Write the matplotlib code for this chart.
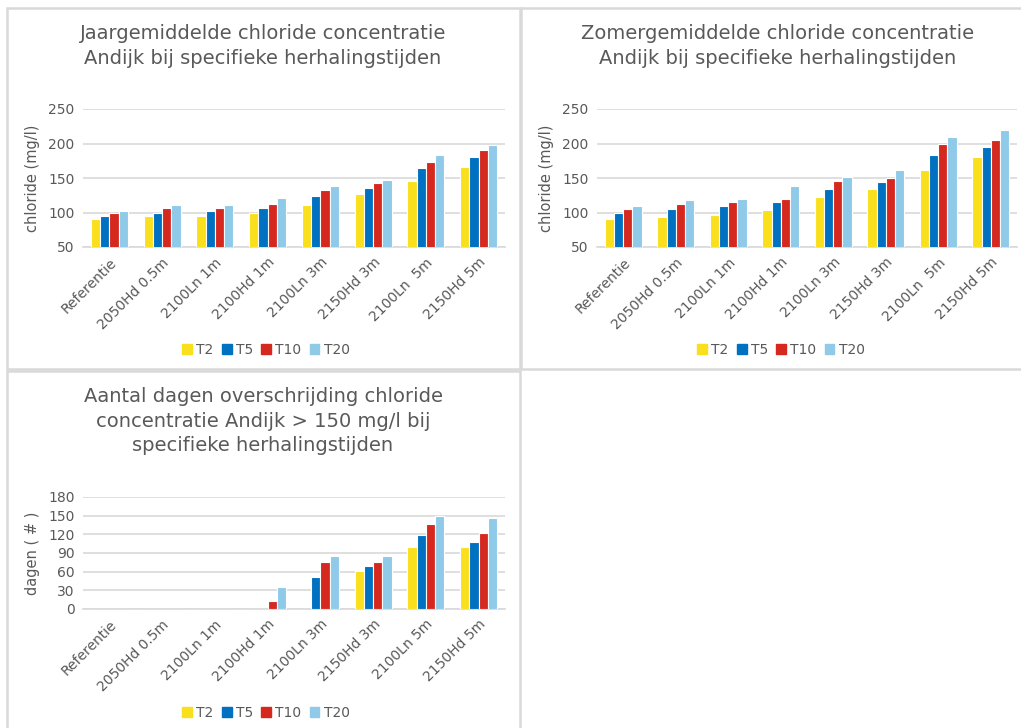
import matplotlib.pyplot as plt
import matplotlib.patches as mpatches
import numpy as np

plt.rcParams['font.family'] = ['DejaVu Sans']

# data
scenarios = ["Referentie", "2050Hd 0.5m", "2100Ln 1m", "2100Hd 1m",
             "2100Ln 3m", "2150Hd 3m", "2100Ln  5m", "2150Hd 5m"]
scenarios_dagen = ["Referentie", "2050Hd 0.5m", "2100Ln 1m", "2100Hd 1m",
                   "2100Ln 3m", "2150Hd 3m", "2100Ln 5m", "2150Hd 5m"]
series = ["T2", "T5", "T10", "T20"]

jaar_T2 = [90, 95, 95, 100, 111, 127, 145, 166]
jaar_T5 = [95, 100, 102, 106, 124, 135, 164, 181]
jaar_T10 = [100, 106, 106, 112, 132, 143, 173, 190]
jaar_T20 = [102, 111, 111, 121, 139, 147, 184, 198]

zomer_T2 = [91, 94, 97, 104, 122, 134, 162, 181]
zomer_T5 = [100, 105, 110, 115, 134, 144, 184, 195]
zomer_T10 = [105, 112, 115, 120, 146, 150, 200, 205]
zomer_T20 = [110, 118, 120, 139, 152, 162, 210, 219]

dagen_T2 = [0, 0, 0, 0, 0, 61, 99, 99]
dagen_T5 = [0, 0, 0, 0, 52, 69, 119, 108]
dagen_T10 = [0, 0, 0, 13, 75, 75, 136, 122]
dagen_T20 = [0, 0, 0, 36, 85, 85, 150, 147]

colors = ["#FAE01C", "#0070C0", "#D5291F", "#8FCAE8"]
txt = "#595959"
grid_c = "#D9D9D9"

W, H = 1021, 728
fig = plt.figure(figsize=(W / 100, H / 100), dpi=100)


def px_axes(x0, y_top, x1, y_bot):
    return fig.add_axes([x0 / W, 1 - y_bot / H, (x1 - x0) / W, (y_bot - y_top) / H])


def bar_panel(ax, labels, data, ylim, yticks, ylabel):
    x = np.arange(len(labels))
    w = 0.175
    for i, vals in enumerate(data):
        ax.bar(x + (i - 1.5) * w, vals, w, color=colors[i], edgecolor="white",
               linewidth=0.8, label=series[i], zorder=3)
    ax.set_xlim(-0.5, len(labels) - 0.5)
    ax.set_ylim(*ylim)
    ax.set_yticks(yticks)
    ax.set_xticks(x)
    ax.set_xticklabels(labels, rotation=45, ha="right", rotation_mode="anchor")
    ax.tick_params(length=0, colors=txt, labelsize=10, pad=6)
    ax.grid(axis="y", color=grid_c, linewidth=1.2, zorder=0)
    for s in ["top", "right", "left"]:
        ax.spines[s].set_visible(False)
    ax.spines["bottom"].set_color(grid_c)
    ax.spines["bottom"].set_linewidth(1.2)
    ax.set_ylabel(ylabel, color=txt, fontsize=10.5, labelpad=6)


def legend(ax, y_px, cx_px):
    handles = [mpatches.Patch(color=c, label=s) for c, s in zip(colors, series)]
    fig.legend(handles=handles, loc="center", bbox_to_anchor=(cx_px / W, 1 - y_px / H),
               ncol=4, frameon=False, fontsize=10, handlelength=0.7, handleheight=0.7,
               handletextpad=0.3, columnspacing=0.6, labelcolor=txt)


# panel borders
for (x0, y0, x1, y1) in [(7, 8, 520, 369), (521, 8, 1025, 369), (7, 371, 520, 732)]:
    fig.patches.append(mpatches.Rectangle((x0 / W, 1 - y1 / H), (x1 - x0) / W, (y1 - y0) / H,
                                          transform=fig.transFigure, fill=False,
                                          edgecolor=grid_c, linewidth=1.8))

ax1 = px_axes(83, 109, 505, 247)
bar_panel(ax1, scenarios, [jaar_T2, jaar_T5, jaar_T10, jaar_T20],
          (50, 250), [50, 100, 150, 200, 250], "chloride (mg/l)")
fig.text(263 / W, 1 - 46 / H, "Jaargemiddelde chloride concentratie\nAndijk bij specifieke herhalingstijden",
         ha="center", va="center", fontsize=14, color=txt, linespacing=1.35)
legend(ax1, 350, 266)

ax2 = px_axes(597, 109, 1017, 247)
bar_panel(ax2, scenarios, [zomer_T2, zomer_T5, zomer_T10, zomer_T20],
          (50, 250), [50, 100, 150, 200, 250], "chloride (mg/l)")
fig.text(778 / W, 1 - 46 / H, "Zomergemiddelde chloride concentratie\nAndijk bij specifieke herhalingstijden",
         ha="center", va="center", fontsize=14, color=txt, linespacing=1.35)
legend(ax2, 350, 781)

ax3 = px_axes(83, 497, 505, 609)
bar_panel(ax3, scenarios_dagen, [dagen_T2, dagen_T5, dagen_T10, dagen_T20],
          (0, 180), [0, 30, 60, 90, 120, 150, 180], "dagen ( # )")
fig.text(263 / W, 1 - 421 / H,
         "Aantal dagen overschrijding chloride\nconcentratie Andijk > 150 mg/l bij\nspecifieke herhalingstijden",
         ha="center", va="center", fontsize=14, color=txt, linespacing=1.35)
legend(ax3, 713, 266)

fig.savefig("out.png", dpi=100, facecolor="white")
